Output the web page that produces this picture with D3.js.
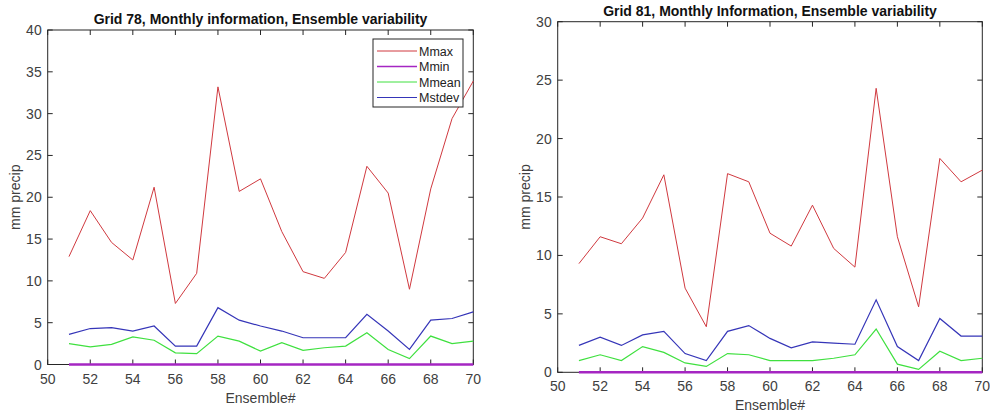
<!DOCTYPE html>
<html>
<head>
<meta charset="utf-8">
<script src="https://cdn.jsdelivr.net/npm/d3@7"></script>
<style>
  body { margin: 0; background: #fff; }
  svg { display: block; font-family: "Liberation Sans", Arial, sans-serif; }
</style>
</head>
<body>
<svg id="chart" width="990" height="415"></svg>
<script>
// ensemble members on the x axis
var ensembles = [51, 52, 53, 54, 55, 56, 57, 58, 59, 60, 61, 62, 63, 64, 65, 66, 67, 68, 69, 70];
var seriesNames = ["Mmax", "Mmin", "Mmean", "Mstdev"];
var xTicks = [50, 52, 54, 56, 58, 60, 62, 64, 66, 68, 70];

// Grid 78
var g78Max  = [12.9, 18.4, 14.6, 12.5, 21.2, 7.3, 10.9, 33.2, 20.7, 22.2, 15.9, 11.1, 10.3, 13.4, 23.7, 20.5, 9.0, 21.0, 29.4, 33.9];
var g78Min  = [0, 0, 0, 0, 0, 0, 0, 0, 0, 0, 0, 0, 0, 0, 0, 0, 0, 0, 0, 0];
var g78Mean = [2.5, 2.1, 2.4, 3.3, 2.9, 1.4, 1.3, 3.4, 2.8, 1.6, 2.6, 1.7, 2.0, 2.2, 3.8, 1.8, 0.7, 3.4, 2.5, 2.8];
var g78Std  = [3.6, 4.3, 4.4, 4.0, 4.6, 2.2, 2.2, 6.8, 5.3, 4.6, 4.0, 3.2, 3.2, 3.2, 6.0, 4.0, 1.8, 5.3, 5.5, 6.3];
var g78YTicks = [0, 5, 10, 15, 20, 25, 30, 35, 40];

// Grid 81
var g81Max  = [9.3, 11.6, 11.0, 13.2, 16.9, 7.2, 3.9, 17.0, 16.3, 11.9, 10.8, 14.3, 10.6, 9.0, 24.3, 11.6, 5.6, 18.3, 16.3, 17.3];
var g81Min  = [0, 0, 0, 0, 0, 0, 0, 0, 0, 0, 0, 0, 0, 0, 0, 0, 0, 0, 0, 0];
var g81Mean = [1.0, 1.5, 1.0, 2.2, 1.7, 0.8, 0.5, 1.6, 1.5, 1.0, 1.0, 1.0, 1.2, 1.5, 3.7, 0.7, 0.25, 1.8, 1.0, 1.2];
var g81Std  = [2.3, 3.0, 2.3, 3.2, 3.5, 1.6, 1.0, 3.5, 4.0, 2.9, 2.1, 2.6, 2.5, 2.4, 6.2, 2.2, 1.0, 4.6, 3.1, 3.1];
var g81YTicks = [0, 5, 10, 15, 20, 25, 30];

var colors = { Mmax: "#d0393f", Mmin: "#a526c2", Mmean: "#3fe03f", Mstdev: "#3535b8" };
var widths = { Mmax: 1, Mmin: 2.4, Mmean: 1.2, Mstdev: 1.2 };

var svg = d3.select("#chart");

function drawPanel(p) {
  var x = d3.scaleLinear().domain([50, 70]).range([p.left, p.right]);
  var y = d3.scaleLinear().domain([0, p.yMax]).range([p.bottom, p.top]);
  var g = svg.append("g");
  var tick = 5;

  // box
  g.append("rect")
    .attr("x", p.left).attr("y", p.top)
    .attr("width", p.right - p.left).attr("height", p.bottom - p.top)
    .attr("fill", "none").attr("stroke", "#262626").attr("stroke-width", 1);

  // inward ticks on all four sides
  xTicks.forEach(function(t) {
    g.append("line").attr("x1", x(t)).attr("x2", x(t)).attr("y1", p.bottom).attr("y2", p.bottom - tick).attr("stroke", "#262626");
    g.append("line").attr("x1", x(t)).attr("x2", x(t)).attr("y1", p.top).attr("y2", p.top + tick).attr("stroke", "#262626");
    g.append("text").attr("x", x(t)).attr("y", p.bottom + 19)
      .attr("text-anchor", "middle").attr("font-size", 14).attr("fill", "#404040").text(t);
  });
  p.yTicks.forEach(function(t) {
    g.append("line").attr("x1", p.left).attr("x2", p.left + tick).attr("y1", y(t)).attr("y2", y(t)).attr("stroke", "#262626");
    g.append("line").attr("x1", p.right).attr("x2", p.right - tick).attr("y1", y(t)).attr("y2", y(t)).attr("stroke", "#262626");
    g.append("text").attr("x", p.left - 6).attr("y", y(t) + 5)
      .attr("text-anchor", "end").attr("font-size", 14).attr("fill", "#404040").text(t);
  });

  // data lines over the box, Mmin last so it shows along the zero line
  var line = d3.line().x(function(d, i) { return x(ensembles[i]); }).y(function(d) { return y(d); });
  ["Mmax", "Mstdev", "Mmean", "Mmin"].forEach(function(name) {
    g.append("path")
      .attr("d", line(p.data[name]))
      .attr("fill", "none")
      .attr("stroke", colors[name])
      .attr("stroke-width", widths[name]);
  });

  // labels
  g.append("text").attr("x", (p.left + p.right) / 2).attr("y", p.bottom + 38)
    .attr("text-anchor", "middle").attr("font-size", 14).attr("fill", "#404040").text("Ensemble#");
  g.append("text")
    .attr("transform", "translate(" + (p.left - 28) + "," + ((p.top + p.bottom) / 2) + ") rotate(-90)")
    .attr("text-anchor", "middle").attr("font-size", 14).attr("fill", "#404040").text("mm precip");
  g.append("text").attr("x", (p.left + p.right) / 2).attr("y", p.top - 6)
    .attr("text-anchor", "middle").attr("font-size", 14).attr("font-weight", "bold").attr("fill", "#111").text(p.title);

  if (p.legend) {
    var lx = 373, ly = 39, lw = 90, lh = 68;
    var lg = g.append("g");
    lg.append("rect").attr("x", lx).attr("y", ly).attr("width", lw).attr("height", lh)
      .attr("fill", "#fff").attr("stroke", "#262626").attr("stroke-width", 1);
    seriesNames.forEach(function(name, i) {
      var ry = ly + 12 + i * 15.5;
      lg.append("line").attr("x1", lx + 4).attr("x2", lx + 44).attr("y1", ry).attr("y2", ry)
        .attr("stroke", colors[name]).attr("stroke-width", name === "Mmin" ? 1.6 : 1);
      lg.append("text").attr("x", lx + 46).attr("y", ry + 4.5)
        .attr("font-size", 12.5).attr("fill", "#222").text(name);
    });
  }
}

drawPanel({
  title: "Grid 78, Monthly information, Ensemble variability",
  left: 47.7, right: 473.3, top: 30, bottom: 364.5, yMax: 40, yTicks: g78YTicks,
  data: { Mmax: g78Max, Mmin: g78Min, Mmean: g78Mean, Mstdev: g78Std },
  legend: true
});
drawPanel({
  title: "Grid 81, Monthly Information, Ensemble variability",
  left: 557.7, right: 982.3, top: 21.7, bottom: 372.3, yMax: 30, yTicks: g81YTicks,
  data: { Mmax: g81Max, Mmin: g81Min, Mmean: g81Mean, Mstdev: g81Std },
  legend: false
});
</script>
</body>
</html>
